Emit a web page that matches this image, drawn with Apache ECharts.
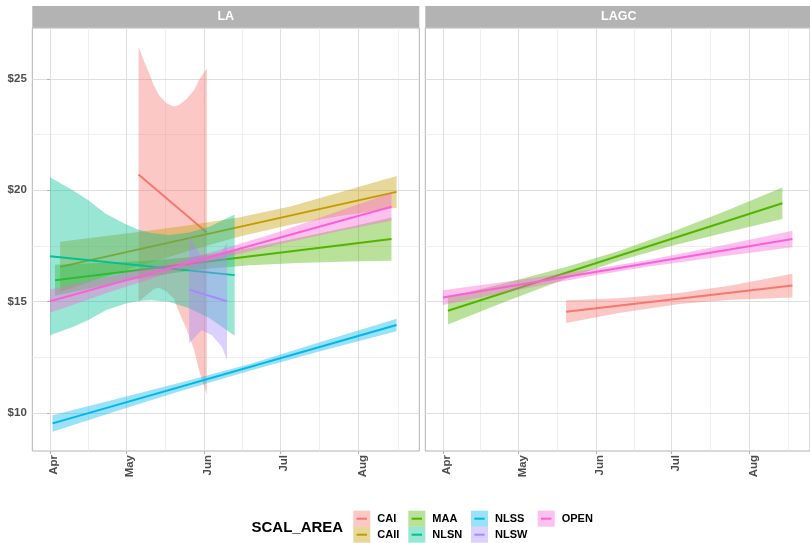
<!DOCTYPE html>
<html><head><meta charset="utf-8">
<script src="https://cdn.jsdelivr.net/npm/echarts@6/dist/echarts.min.js"></script>
<style>html,body{margin:0;padding:0;background:#fff}#c{width:810px;height:543px}</style>
</head><body><div id="c"></div>
<script>
// ---------------- data ----------------
const YEAR = 2023;
const panels = ['LA', 'LAGC'];
const groups = ['CAI', 'CAII', 'MAA', 'NLSN', 'NLSS', 'NLSW', 'OPEN'];
const groupColors = ['#F8766D', '#C49A00', '#53B400', '#00C094', '#00B6EB', '#A58AFF', '#FB61D7'];
const monthTicks = ['04-01', '05-01', '06-01', '07-01', '08-01'];
const monthLabels = ['Apr', 'May', 'Jun', 'Jul', 'Aug'];
const yTicks = [10, 15, 20, 25];
const xLimits = ['03-25', '08-25'];
const yLimits = [8.29, 27.29];
const legendTitle = 'SCAL_AREA';

// fitted lines: [date, value] at start and end
const LA_CAI_line  = [['05-06', 20.71], ['06-02', 18.10]];
const LA_CAII_line = [['04-05', 16.56], ['08-16', 19.93]];
const LA_MAA_line  = [['04-03', 15.96], ['08-14', 17.81]];
const LA_NLSN_line = [['04-01', 17.04], ['06-13', 16.19]];
const LA_NLSS_line = [['04-02', 9.53], ['08-16', 13.95]];
const LA_NLSW_line = [['05-26', 15.54], ['06-10', 15.02]];
const LA_OPEN_line = [['04-01', 15.02], ['08-14', 19.26]];
const LAGC_CAI_line  = [['05-20', 14.55], ['08-18', 15.72]];
const LAGC_MAA_line  = [['04-03', 14.59], ['08-14', 19.42]];
const LAGC_OPEN_line = [['04-01', 15.18], ['08-18', 17.81]];

// confidence bands: [date, lower, upper]
const LA_CAI_band = [
  ['05-06', 14.97, 26.45], ['05-08', 15.19, 25.85], ['05-10', 15.36, 25.30],
  ['05-12', 15.55, 24.73], ['05-14', 15.62, 24.28], ['05-17', 15.47, 23.91],
  ['05-20', 15.12, 23.76], ['05-22', 14.53, 23.83], ['05-25', 13.76, 24.10],
  ['05-28', 12.83, 24.51], ['05-30', 11.88, 24.96], ['06-02', 10.80, 25.48]
];
const LA_CAII_band = [
  ['04-05', 15.43, 17.69], ['04-20', 16.02, 17.90], ['05-06', 16.59, 18.13],
  ['05-26', 17.29, 18.43], ['06-15', 17.93, 18.79], ['07-05', 18.45, 19.27],
  ['07-24', 18.83, 19.89], ['08-16', 19.22, 20.64]
];
const LA_MAA_band = [
  ['04-03', 15.26, 16.66], ['04-20', 15.67, 16.73], ['05-10', 16.12, 16.84],
  ['05-28', 16.42, 17.02], ['06-19', 16.63, 17.41], ['07-08', 16.74, 17.86],
  ['07-28', 16.80, 18.34], ['08-14', 16.84, 18.78]
];
const LA_NLSN_band = [
  ['04-01', 13.49, 20.59], ['04-10', 13.86, 20.00], ['04-16', 14.16, 19.56],
  ['04-23', 14.61, 18.95], ['05-01', 14.91, 18.47], ['05-06', 15.03, 18.23],
  ['05-11', 15.06, 18.08], ['05-18', 14.99, 17.99], ['05-26', 14.70, 18.10],
  ['06-03', 14.26, 18.36], ['06-13', 13.47, 18.91]
];
const LA_NLSS_band = [
  ['04-02', 9.16, 9.90], ['04-28', 10.11, 10.65], ['05-22', 10.96, 11.34],
  ['06-19', 11.90, 12.20], ['07-16', 12.75, 13.15], ['08-16', 13.67, 14.23]
];
const LA_NLSW_band = [
  ['05-26', 13.12, 17.96], ['05-29', 13.49, 17.37], ['05-31', 13.71, 16.97],
  ['06-04', 13.49, 16.93], ['06-08', 12.96, 17.24], ['06-10', 12.37, 17.67]
];
const LA_OPEN_band = [
  ['04-01', 14.50, 15.54], ['04-24', 15.41, 16.11], ['05-18', 16.27, 16.73],
  ['06-07', 16.92, 17.32], ['07-01', 17.59, 18.15], ['07-24', 18.16, 19.06],
  ['08-14', 18.63, 19.89]
];
const LAGC_CAI_band = [
  ['05-20', 14.04, 15.06], ['06-10', 14.49, 15.15], ['07-04', 14.89, 15.39],
  ['07-25', 15.08, 15.74], ['08-18', 15.19, 16.25]
];
const LAGC_MAA_band = [
  ['04-03', 13.97, 15.21], ['04-26', 15.00, 15.84], ['05-21', 16.07, 16.59],
  ['06-10', 16.83, 17.27], ['06-30', 17.48, 18.08], ['07-22', 18.09, 19.05],
  ['08-14', 18.71, 20.13]
];
const LAGC_OPEN_band = [
  ['04-01', 14.85, 15.51], ['05-01', 15.53, 15.97], ['05-31', 16.17, 16.47],
  ['06-20', 16.54, 16.84], ['07-20', 17.02, 17.50], ['08-18', 17.44, 18.18]
];

const panelData = {
  LA: {
    CAI: [LA_CAI_band, LA_CAI_line], CAII: [LA_CAII_band, LA_CAII_line],
    MAA: [LA_MAA_band, LA_MAA_line], NLSN: [LA_NLSN_band, LA_NLSN_line],
    NLSS: [LA_NLSS_band, LA_NLSS_line], NLSW: [LA_NLSW_band, LA_NLSW_line],
    OPEN: [LA_OPEN_band, LA_OPEN_line]
  },
  LAGC: {
    CAI: [LAGC_CAI_band, LAGC_CAI_line], MAA: [LAGC_MAA_band, LAGC_MAA_line],
    OPEN: [LAGC_OPEN_band, LAGC_OPEN_line]
  }
};

// ---------------- helpers ----------------
function day(md) {
  const p = md.split('-').map(Number);
  return (Date.UTC(YEAR, p[0] - 1, p[1]) - Date.UTC(YEAR, 3, 1)) / 864e5;
}
function rgba(hex, a) {
  const n = parseInt(hex.slice(1), 16);
  return 'rgba(' + (n >> 16) + ',' + ((n >> 8) & 255) + ',' + (n & 255) + ',' + a + ')';
}
const FONT = "'Liberation Sans', Arial, Helvetica, sans-serif";
const xTickDays = monthTicks.map(day);
const xMinorDays = xTickDays.map((d, i) => i < xTickDays.length - 1 ? (d + xTickDays[i + 1]) / 2 : d + (d - xTickDays[i - 1]) / 2);
const yMinor = yTicks.slice(0, -1).map((v, i) => (v + yTicks[i + 1]) / 2);

// layout
const gridLefts = [32.3, 425.3];
const gridTop = 28, gridW = 387, gridH = 423;

const grids = [], xAxes = [], yAxes = [], series = [], graphics = [];

panels.forEach((p, pi) => {
  grids.push({ left: gridLefts[pi], top: gridTop, width: gridW, height: gridH,
    show: true, borderColor: '#B3B3B3', borderWidth: 1, backgroundColor: 'transparent', containLabel: false });
  xAxes.push({
    type: 'value', gridIndex: pi, min: day(xLimits[0]), max: day(xLimits[1]),
    axisLine: { show: false }, splitLine: { show: false },
    axisTick: { show: true, length: 3, customValues: xTickDays, lineStyle: { color: '#B3B3B3', width: 1 } },
    axisLabel: { customValues: xTickDays, rotate: 90, margin: 4, fontSize: 11.5, fontWeight: 'bold',
      color: '#4D4D4D', fontFamily: FONT, verticalAlign: 'top', lineHeight: 8,
      formatter: v => { const i = xTickDays.indexOf(v); return i >= 0 ? monthLabels[i] : ''; } }
  });
  yAxes.push({
    type: 'value', gridIndex: pi, min: yLimits[0], max: yLimits[1],
    axisLine: { show: false }, splitLine: { show: false },
    axisTick: { show: pi === 0, length: 3, customValues: yTicks, lineStyle: { color: '#B3B3B3', width: 1 } },
    axisLabel: { show: pi === 0, customValues: yTicks, margin: 5.5, fontSize: 11.5, fontWeight: 'bold',
      color: '#4D4D4D', fontFamily: FONT, formatter: v => '$' + v }
  });
  // gridlines
  const ml = [];
  xMinorDays.forEach(v => ml.push({ xAxis: v, lineStyle: { color: '#EBEBEB', width: 0.8, type: 'solid' } }));
  yMinor.forEach(v => ml.push({ yAxis: v, lineStyle: { color: '#EBEBEB', width: 0.8, type: 'solid' } }));
  xTickDays.forEach(v => ml.push({ xAxis: v, lineStyle: { color: '#DEDEDE', width: 1.1, type: 'solid' } }));
  yTicks.forEach(v => ml.push({ yAxis: v, lineStyle: { color: '#DEDEDE', width: 1.1, type: 'solid' } }));
  series.push({
    type: 'line', name: '_grid' + pi, xAxisIndex: pi, yAxisIndex: pi, data: [], z: 0, silent: true,
    markLine: { z: 0, silent: true, symbol: ['none', 'none'], label: { show: false }, animation: false,
      emphasis: { disabled: true }, data: ml }
  });

  // strip
  graphics.push({ type: 'rect', shape: { x: gridLefts[pi], y: 6, width: gridW, height: 21.7 },
    style: { fill: '#B3B3B3' }, silent: true });
  graphics.push({ type: 'text', x: gridLefts[pi] + gridW / 2, y: 17,
    style: { text: p, fill: '#FFFFFF', fontSize: 12.5, fontWeight: 'bold', fontFamily: FONT,
      align: 'center', verticalAlign: 'middle', textAlign: 'center', textVerticalAlign: 'middle' }, silent: true });

  groups.forEach((g, gi) => {
    const entry = panelData[p][g];
    if (!entry) return;
    const band = entry[0], line = entry[1];
    const col = groupColors[gi];
    const bandData = band.map(r => [day(r[0]), r[1], r[2]]);
    series.push({
      type: 'custom', name: g, xAxisIndex: pi, yAxisIndex: pi, z: 2 + gi * 2, silent: true,
      data: bandData, encode: { x: 0, y: [1, 2] },
      renderItem: (params, api) => {
        if (params.dataIndex !== 0) return { type: 'group', children: [] };
        const pts = [];
        bandData.forEach(r => pts.push(api.coord([r[0], r[2]])));
        for (let i = bandData.length - 1; i >= 0; i--) pts.push(api.coord([bandData[i][0], bandData[i][1]]));
        return { type: 'polygon', shape: { points: pts }, style: { fill: rgba(col, 0.4) } };
      }
    });
    series.push({
      type: 'line', name: g, xAxisIndex: pi, yAxisIndex: pi, z: 3 + gi * 2, silent: true,
      data: line.map(r => [day(r[0]), r[1]]), symbol: 'none', showSymbol: false,
      lineStyle: { color: col, width: 2 }, itemStyle: { color: col },
      emphasis: { disabled: true }
    });
  });
});

// legend
const legendCols = [['CAI', 'CAII'], ['MAA', 'NLSN'], ['NLSS', 'NLSW'], ['OPEN']];
const legendLefts = [353.3, 408.3, 471, 537.7];
const legendTop = 510.7, keyW = 17, keyH = 16;
const legends = legendCols.map((names, ci) => ({
  orient: 'vertical', left: legendLefts[ci], top: legendTop, padding: 0,
  itemWidth: keyW, itemHeight: keyH, itemGap: 0, selectedMode: false,
  textStyle: { fontSize: 11, fontWeight: 'bold', color: '#000', fontFamily: FONT, padding: [0, 0, 0, 2] },
  data: names.map(n => ({ name: n, icon: 'rect',
    itemStyle: { color: rgba(groupColors[groups.indexOf(n)], 0.4), borderWidth: 0 } }))
}));
legendCols.forEach((names, ci) => names.forEach((n, ri) => {
  const y = legendTop + ri * keyH + keyH / 2;
  graphics.push({ type: 'line', z: 10, silent: true,
    shape: { x1: legendLefts[ci] + 3.3, y1: y, x2: legendLefts[ci] + keyW - 3.3, y2: y },
    style: { stroke: groupColors[groups.indexOf(n)], lineWidth: 2 } });
}));
graphics.push({ type: 'text', x: 251.5, y: 527.7, silent: true,
  style: { text: legendTitle, fill: '#000', fontSize: 15, fontWeight: 'bold', fontFamily: FONT,
    align: 'left', verticalAlign: 'middle', textAlign: 'left', textVerticalAlign: 'middle' } });

const chart = echarts.init(document.getElementById('c'), null, { renderer: 'canvas' });
chart.setOption({
  animation: false,
  backgroundColor: '#FFFFFF',
  grid: grids, xAxis: xAxes, yAxis: yAxes,
  legend: legends,
  series: series,
  graphic: { elements: graphics }
});
</script></body></html>
